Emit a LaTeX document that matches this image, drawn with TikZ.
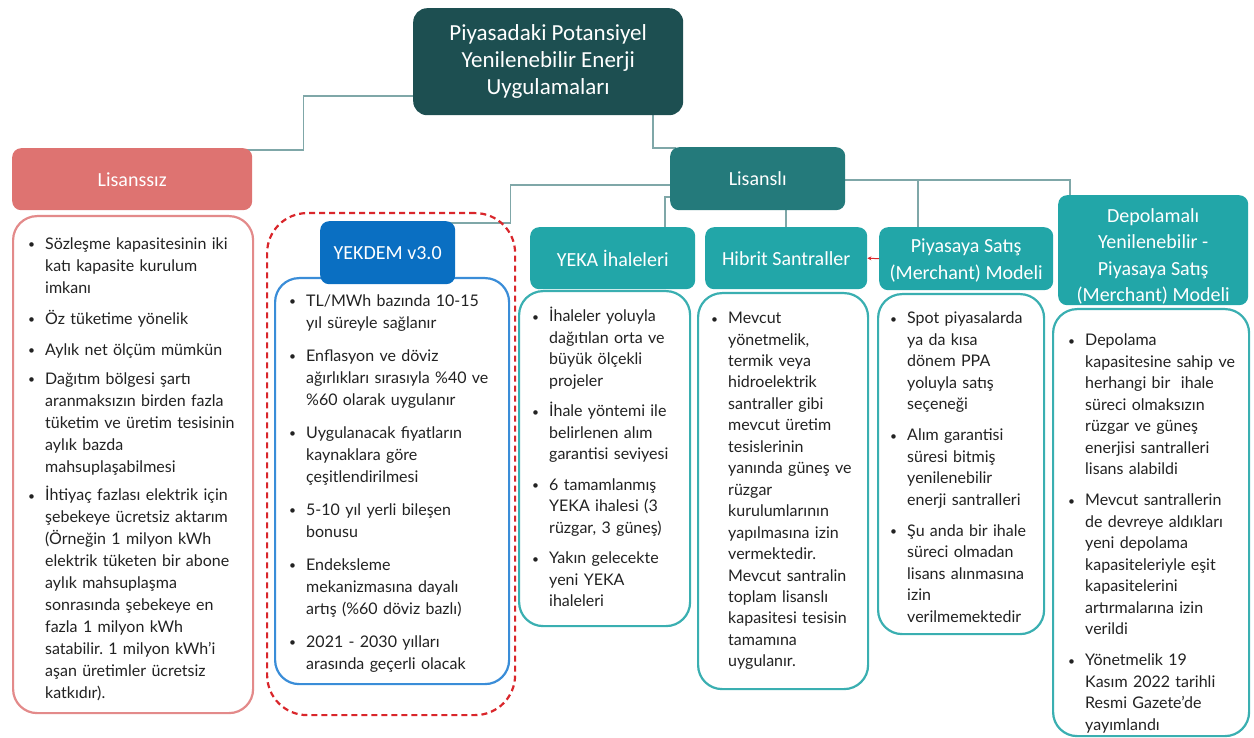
\documentclass[tikz,border=0pt]{standalone}
\usepackage{fontspec}
\usepackage{graphicx}
\setmainfont{Lato}
\newfontfamily\hfont{Carlito}
\usetikzlibrary{arrows.meta,calc}
\pgfdeclarelayer{bg}
\pgfsetlayers{bg,main}
\definecolor{titlec}{HTML}{1D4F51}
\definecolor{lislc}{HTML}{247A7B}
\definecolor{tealc}{HTML}{22A6A8}
\definecolor{tealb}{HTML}{3AAFB1}
\definecolor{lisz}{HTML}{DE7371}
\definecolor{liszb}{HTML}{E38A8A}
\definecolor{bluec}{HTML}{0A6FC2}
\definecolor{blueb}{HTML}{3A8DD8}
\definecolor{redd}{HTML}{D9262B}
\definecolor{connc}{HTML}{7FA7A8}
\definecolor{txt}{HTML}{222222}
\newlength{\bw}\setlength{\bw}{17pt}
\newcommand{\bi}{\par\noindent\hangindent=\bw\hangafter=1\makebox[\bw][l]{\raisebox{0.6pt}{\scalebox{0.75}{\textbullet}}}\strut}
\newcommand{\gp}[1]{\par\vspace{#1}}
\begin{document}
\frenchspacing
\begin{tikzpicture}[x=1pt,y=-1pt,
  hdr/.style={anchor=north west, rounded corners=9pt, inner sep=0pt, align=center, text=white,
    font=\hfont\fontsize{20}{26.5}\selectfont},
  lbl/.style={inner sep=0pt, align=center, text=white, font=\hfont\fontsize{20}{26.5}\selectfont},
  bodybox/.style={anchor=north west, draw, line width=2.2pt, fill=white, rounded corners=24pt, inner sep=0pt},
  bodytext/.style={anchor=north west, inner sep=0pt, text width=280pt, align=left, text=txt,
    font=\fontsize{16}{21.5}\selectfont\frenchspacing},
  conn/.style={draw=connc, line width=1.6pt},
]
\useasboundingbox (0,0) rectangle (1254,738);

% title and level-1 headers
\node[hdr, fill=titlec, minimum width=270pt, minimum height=107pt, rounded corners=14pt,
  font=\hfont\fontsize{23}{27}\selectfont] (title) at (413,8)
  {Piyasadaki Potansiyel\\Yenilenebilir Enerji\\Uygulamaları};
\node[hdr, fill=lisz, minimum width=240pt, minimum height=62pt] (lisz) at (12,148) {Lisanssız};
\node[hdr, fill=lislc, minimum width=175pt, minimum height=63pt] (lisl) at (670,147) {Lisanslı};

% Lisanssiz body
\node[bodybox, draw=liszb, minimum width=240pt, minimum height=497pt] (liszbody) at (12,215) {};
\node[bodytext, font=\fontsize{16}{22}\selectfont\frenchspacing] (lisztext) at (28,227) {%
\bi Sözleşme kapasitesinin iki\newline katı kapasite kurulum\newline imkanı
\gp{9pt}\bi Öz tüketime yönelik
\gp{9pt}\bi Aylık net ölçüm mümkün
\gp{7pt}\bi Dağıtım bölgesi şartı\newline aranmaksızın birden fazla\newline tüketim ve üretim tesisinin\newline aylık bazda\newline mahsuplaşabilmesi
\gp{6.5pt}\bi İhtiyaç fazlası elektrik için\newline şebekeye ücretsiz aktarım\newline (Örneğin 1 milyon kWh\newline elektrik tüketen bir abone\newline aylık mahsuplaşma\newline sonrasında şebekeye en\newline fazla 1 milyon kWh\newline satabilir. 1 milyon kWh'i\newline aşan üretimler ücretsiz\newline katkıdır).\par};

% YEKDEM
\node[anchor=north west, draw=redd, dashed, dash pattern=on 6pt off 4pt, line width=2.2pt,
  rounded corners=40pt, minimum width=248pt, minimum height=502pt, inner sep=0pt] (dash) at (266,212) {};
\node[bodybox, draw=blueb, minimum width=234pt, minimum height=406pt] (yekdembody) at (274,277) {};
\node[hdr, fill=bluec, minimum width=135pt, minimum height=63pt] (yekdem) at (320,221) {YEKDEM v3.0};
\node[bodytext, font=\fontsize{16}{22}\selectfont\frenchspacing] (yekdemtext) at (289,284) {%
\bi TL/MWh bazında 10-15\newline yıl süreyle sağlanır
\gp{11pt}\bi Enflasyon ve döviz\newline ağırlıkları sırasıyla \%40 ve\newline \%60 olarak uygulanır
\gp{11pt}\bi Uygulanacak fiyatların\newline kaynaklara göre\newline çeşitlendirilmesi
\gp{11pt}\bi 5-10 yıl yerli bileşen\newline bonusu
\gp{11pt}\bi Endeksleme\newline mekanizmasına dayalı\newline artış (\%60 döviz bazlı)
\gp{11pt}\bi 2021 - 2030 yılları\newline arasında geçerli olacak\par};

% YEKA
\node[bodybox, draw=tealb, minimum width=171pt, minimum height=335pt] (yekabody) at (518,290) {};
\node[hdr, fill=tealc, minimum width=165pt, minimum height=62pt] (yeka) at (530,227) {YEKA İhaleleri};
\node[bodytext] (yekatext) at (532,300) {%
\bi İhaleler yoluyla\newline dağıtılan orta ve\newline büyük ölçekli\newline projeler
\gp{9pt}\bi İhale yöntemi ile\newline belirlenen alım\newline garantisi seviyesi
\gp{9pt}\bi 6 tamamlanmış\newline YEKA ihalesi (3\newline rüzgar, 3 güneş)
\gp{9pt}\bi Yakın gelecekte\newline yeni YEKA\newline ihaleleri\par};

% Hibrit
\node[bodybox, draw=tealb, minimum width=170pt, minimum height=396pt] (hibritbody) at (697,292) {};
\node[hdr, fill=tealc, minimum width=162pt, minimum height=62pt] (hibrit) at (705,227) {Hibrit Santraller};
\node[bodytext, font=\fontsize{16}{21.45}\selectfont\frenchspacing] (hibrittext) at (711,302) {%
\bi Mevcut\newline yönetmelik,\newline termik veya\newline hidroelektrik\newline santraller gibi\newline mevcut üretim\newline tesislerinin\newline yanında güneş ve\newline rüzgar\newline kurulumlarının\newline yapılmasına izin\newline vermektedir.\newline Mevcut santralin\newline toplam lisanslı\newline kapasitesi tesisin\newline tamamına\newline uygulanır.\par};

% Piyasaya
\node[bodybox, draw=tealb, minimum width=166pt, minimum height=340pt] (piyasabody) at (877,293) {};
\node[hdr, fill=tealc, minimum width=174pt, minimum height=63pt] (piyasa) at (879,227) {};
\node[lbl] (piyasalabel) at ([yshift=-2pt]piyasa.center) {Piyasaya Satış\\(Merchant) Modeli};
\node[bodytext] (piyasatext) at (890,302) {%
\bi Spot piyasalarda\newline ya da kısa\newline dönem PPA\newline yoluyla satış\newline seçeneği
\gp{9.5pt}\bi Alım garantisi\newline süresi bitmiş\newline yenilenebilir\newline enerji santralleri
\gp{9.5pt}\bi Şu anda bir ihale\newline süreci olmadan\newline lisans alınmasına\newline izin\newline verilmemektedir\par};

% Depolamali
\node[bodybox, draw=tealb, minimum width=196pt, minimum height=427pt] (depobody) at (1052,308) {};
\node[hdr, fill=tealc, minimum width=190pt, minimum height=110pt] (depo) at (1058,195) {};
\node[lbl] (depolabel) at ([yshift=-6pt]depo.center) {Depolamalı\\Yenilenebilir -\\Piyasaya Satış\\(Merchant) Modeli};
\node[bodytext] (depotext) at (1068,324) {%
\bi Depolama\newline kapasitesine sahip ve\newline herhangi bir\ \ ihale\newline süreci olmaksızın\newline rüzgar ve güneş\newline enerjisi santralleri\newline lisans alabildi
\gp{9.5pt}\bi Mevcut santrallerin\newline de devreye aldıkları\newline yeni depolama\newline kapasiteleriyle eşit\newline kapasitelerini\newline artırmalarına izin\newline verildi
\gp{9.5pt}\bi Yönetmelik 19\newline Kasım 2022 tarihli\newline Resmi Gazete'de\newline yayımlandı\par};

% connectors
\begin{pgfonlayer}{bg}
\draw[conn] ([yshift=-34.5pt]title.west) -| ([xshift=51pt,yshift=-2pt]lisz.north east) -- ([xshift=-6pt,yshift=-2pt]lisz.north east);
\draw[conn] ([xshift=105pt]title.south) |- ([xshift=6pt,yshift=-1pt]lisl.north west);
\draw[conn] ([yshift=-6.5pt]lisl.west) -| ([xshift=55pt,yshift=-2pt]yekdem.north east) -- ([xshift=-6pt,yshift=-2pt]yekdem.north east);
\draw[conn] ([yshift=-18.5pt]lisl.west) -| ([xshift=52.5pt]yeka.north);
\draw[conn] (hibrit.north |- lisl.south) -- (hibrit.north);
\coordinate (lr) at ([yshift=-1.5pt]lisl.east);
\coordinate (pn) at ([xshift=-48pt]piyasa.north);
\draw[conn] (lr) -| ([xshift=12pt]depo.north west);
\draw[conn] (pn |- lr) -- (pn);
\end{pgfonlayer}
\draw[draw=redd, line width=1pt, -{Stealth[length=4pt,width=4pt]}] (piyasa.west) -- (hibrit.east);
\end{tikzpicture}
\end{document}
